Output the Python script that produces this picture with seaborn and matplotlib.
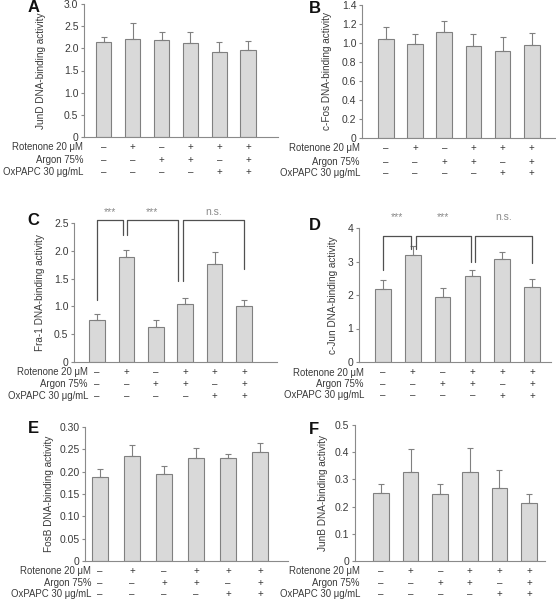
import numpy as np
import pandas as pd
import matplotlib
matplotlib.use("Agg")
import matplotlib.pyplot as plt
import matplotlib.transforms as mtransforms
import seaborn as sns

# ---------------- data ----------------
conditions = ["1", "2", "3", "4", "5", "6"]
row_labels = ["Rotenone 20 μM", "Argon 75%", "OxPAPC 30 μg/mL"]
rotenone = ["–", "+", "–", "+", "+", "+"]
argon = ["–", "–", "+", "+", "–", "+"]
oxpapc = ["–", "–", "–", "–", "+", "+"]

junD_vals = [2.14, 2.22, 2.18, 2.13, 1.92, 1.97]
junD_err = [0.12, 0.35, 0.18, 0.24, 0.22, 0.20]
cfos_vals = [1.04, 0.985, 1.12, 0.964, 0.92, 0.98]
cfos_err = [0.13, 0.105, 0.115, 0.133, 0.14, 0.12]
fra1_vals = [0.76, 1.89, 0.63, 1.04, 1.77, 1.01]
fra1_err = [0.11, 0.12, 0.12, 0.105, 0.21, 0.11]
cjun_vals = [2.19, 3.20, 1.95, 2.56, 3.08, 2.24]
cjun_err = [0.25, 0.25, 0.25, 0.19, 0.19, 0.24]
fosB_vals = [0.188, 0.235, 0.194, 0.231, 0.230, 0.2435]
fosB_err = [0.017, 0.024, 0.018, 0.021, 0.0105, 0.0215]
junB_vals = [0.251, 0.328, 0.246, 0.327, 0.270, 0.212]
junB_err = [0.031, 0.082, 0.036, 0.087, 0.065, 0.034]

junD_ticks = ["0", "0.5", "1.0", "1.5", "2.0", "2.5", "3.0"]
cfos_ticks = ["0", "0.2", "0.4", "0.6", "0.8", "1.0", "1.2", "1.4"]
fra1_ticks = ["0", "0.5", "1.0", "1.5", "2.0", "2.5"]
cjun_ticks = ["0", "1", "2", "3", "4"]
fosB_ticks = ["0", "0.05", "0.10", "0.15", "0.20", "0.25", "0.30"]
junB_ticks = ["0", "0.1", "0.2", "0.3", "0.4", "0.5"]

sig_labels = ["***", "***", "n.s."]

# ---------------- style ----------------
sns.set_style("ticks")
plt.rcParams["font.family"] = ["Liberation Sans", "DejaVu Sans"]
TXT = "#3a3a3a"
AX = "#8a8a8a"
BAR = "#d9d9d9"
EDGE = "#808080"

W, H = 556, 601
fig = plt.figure(figsize=(W / 100, H / 100), dpi=100)


def panel(rect, c0, sp, vals, errs, ticks, ylabel, ylab_x, letter, letter_xy,
          row_offs, lab_right, brackets=None, sig_y=None):
    left, top, right, bottom = rect
    ax = fig.add_axes([left / W, 1 - bottom / H, (right - left) / W, (bottom - top) / H])
    df = pd.DataFrame({"cond": conditions, "val": vals})
    sns.barplot(data=df, x="cond", y="val", color=BAR, edgecolor=EDGE,
                linewidth=0.8, width=15.5 / sp, errorbar=None, saturation=1, ax=ax)
    x = np.arange(len(vals))
    ax.errorbar(x, vals, yerr=[np.zeros(len(vals)), errs], fmt="none",
                ecolor=EDGE, elinewidth=0.8, capsize=2.2, capthick=0.8)
    ax.set_xlim((left - c0) / sp, (right - c0) / sp)
    tvals = [float(t) for t in ticks]
    ax.set_ylim(0, tvals[-1])
    ax.set_yticks(tvals)
    ax.set_yticklabels(ticks)
    ax.set_xticks([])
    ax.set_xlabel("")
    ax.set_ylabel(ylabel, fontsize=7.2, color=TXT)
    ax.yaxis.set_label_coords((ylab_x - left) / (right - left), 0.5)
    ax.tick_params(axis="y", labelsize=7.5, labelcolor=TXT, color=AX,
                   length=2.5, width=0.8, pad=1.5)
    for s in ["top", "right"]:
        ax.spines[s].set_visible(False)
    for s in ["left", "bottom"]:
        ax.spines[s].set_color(AX)
        ax.spines[s].set_linewidth(0.8)
    hpx = bottom - top
    trans = mtransforms.blended_transform_factory(ax.transData, ax.transAxes)
    for r, syms in enumerate([rotenone, argon, oxpapc]):
        ya = -row_offs[r] / hpx
        for i, s in enumerate(syms):
            ax.text(i, ya, s, transform=trans, ha="center", va="center",
                    fontsize=7, color=TXT)
        fig.text(lab_right / W, 1 - (bottom + row_offs[r]) / H, row_labels[r],
                 ha="right", va="center", fontsize=6.9, color=TXT)
    fig.text(letter_xy[0] / W, 1 - letter_xy[1] / H, letter, ha="left", va="top",
             fontsize=12, fontweight="bold", color="#111111")
    if brackets:
        for (xs, ys), lab in zip(brackets, sig_labels):
            ax.plot(xs, ys, color="#505050", lw=0.9, clip_on=False)
            ax.text((xs[0] + xs[-1]) / 2, sig_y, lab, ha="center", va="center",
                    fontsize=7.5, color="#8a8a8a")
    return ax


panel((84, 4, 278, 137), 103.7, 28.9, junD_vals, junD_err, junD_ticks,
      "JunD DNA-binding activity", 46.5, "A", (28, 0), (10, 23.3, 35.3), 83)
panel((362, 5, 555, 138), 385.8, 29.2, cfos_vals, cfos_err, cfos_ticks,
      "c-Fos DNA-binding activity", 332, "B", (309, 1), (10, 23.7, 35.3), 360)

fra1_brackets = [
    ([0, 0, 0.87, 0.87], [1.11, 2.55, 2.55, 2.29]),
    ([1.01, 1.01, 2.76, 2.76], [2.29, 2.55, 2.55, 1.45]),
    ([2.93, 2.93, 5.0, 5.0], [1.45, 2.55, 2.55, 1.67]),
]
panel((74, 223, 277, 362), 97, 29.4, fra1_vals, fra1_err, fra1_ticks,
      "Fra-1 DNA-binding activity", 45, "C", (27, 213), (10, 22.3, 34), 88,
      brackets=fra1_brackets, sig_y=2.69)

cjun_brackets = [
    ([0, 0, 0.95, 0.95], [2.75, 3.75, 3.75, 3.37]),
    ([1.1, 1.1, 2.94, 2.94], [3.37, 3.75, 3.75, 3.0]),
    ([3.08, 3.08, 5.0, 5.0], [3.0, 3.75, 3.75, 2.95]),
]
panel((359, 228, 551, 362), 383, 29.8, cjun_vals, cjun_err, cjun_ticks,
      "c-Jun DNA-binding activity", 338, "D", (309, 218), (10.5, 22, 33.5), 364,
      brackets=cjun_brackets, sig_y=4.33)

panel((85, 427, 288, 561), 100, 32, fosB_vals, fosB_err, fosB_ticks,
      "FosB DNA-binding activity", 54, "E", (28, 421), (10, 22.3, 33.3), 91)
panel((355, 425, 545, 561), 381, 29.6, junB_vals, junB_err, junB_ticks,
      "JunB DNA-binding activity", 328.5, "F", (309, 422), (10, 22.3, 33.3), 360)

fig.savefig("out.png", dpi=100)
